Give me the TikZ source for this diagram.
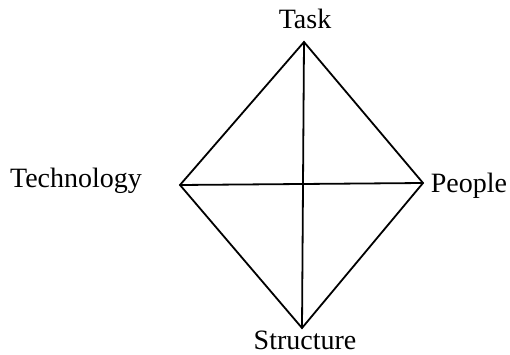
\documentclass[tikz,border=0pt]{standalone}
\usepackage{fontspec}
\setmainfont{Liberation Serif}
\usetikzlibrary{positioning}

\begin{document}
\begin{tikzpicture}[x=1pt, y=-1pt,
    lbl/.style={font=\fontsize{28}{32}\selectfont, inner sep=0pt, anchor=base},
    edge/.style={line width=1.8pt, line join=miter}]

\useasboundingbox (0,0) rectangle (510,355);

% Corners of the diamond
\coordinate (task) at (304,42);
\coordinate (technology) at (180,185);
\coordinate (people) at (423,183);
\coordinate (structure) at (302,328);

% Labels
\node[lbl] (tasklbl) at (305,29) {Task};
\node[lbl] (techlbl) at (76,187) {Technology};
\node[lbl] (peoplelbl) at (469,193) {People};
\node[lbl] (structlbl) at (305,349) {Structure};

% Diamond and its diagonals
\draw[edge] (task) -- (people) -- (structure) -- (technology) -- cycle;
\draw[edge] (task) -- (structure);
\draw[edge] (technology) -- (people);

\end{tikzpicture}
\end{document}
